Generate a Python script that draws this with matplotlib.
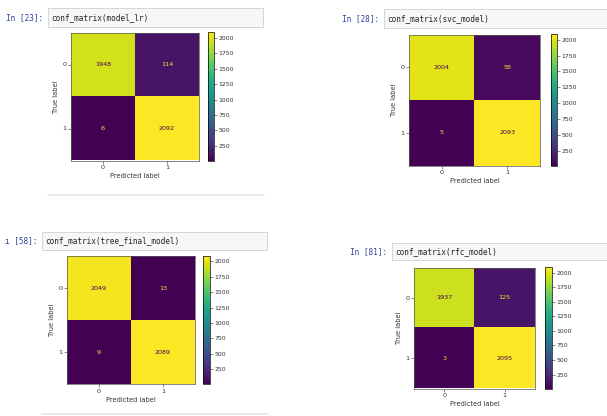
import numpy as np
import matplotlib
matplotlib.use("Agg")
import matplotlib.pyplot as plt
from matplotlib.patches import Rectangle

# confusion matrices
cm_lr = [[1948, 114], [6, 2092]]
cm_svc = [[2004, 58], [5, 2093]]
cm_tree = [[2049, 13], [9, 2089]]
cm_rfc = [[1937, 125], [3, 2095]]

prompts = ["In [23]:", "In [28]:", "\u0131 [58]:", "In [81]:"]
codes = ["conf_matrix(model_lr)", "conf_matrix(svc_model)",
         "conf_matrix(tree_final_model)", "conf_matrix(rfc_model)"]
class_labels = ["0", "1"]
cbar_ticks = [250, 500, 750, 1000, 1250, 1500, 1750, 2000]

W, H = 607, 416
fig = plt.figure(figsize=(W / 100, H / 100), dpi=100)


def px_axes(x0, y0, x1, y1):
    # pixel box (top-left origin) -> figure axes
    return fig.add_axes([x0 / W, 1 - y1 / H, (x1 - x0) / W, (y1 - y0) / H])


# overlay axis for the notebook decorations
bg = fig.add_axes([0, 0, 1, 1])
bg.set_xlim(0, W)
bg.set_ylim(H, 0)
bg.axis("off")


def code_cell(x0, y0, x1, y1, prompt, code):
    bg.add_patch(Rectangle((x0, y0), x1 - x0, y1 - y0, facecolor="#f7f7f7",
                           edgecolor="#cfcfcf", lw=0.6))
    bg.text(x0 - 5, (y0 + y1) / 2, prompt, ha="right", va="center",
            color="#303F9F", family="DejaVu Sans Mono", fontsize=5.6)
    bg.text(x0 + 3, (y0 + y1) / 2, code, ha="left", va="center",
            color="#222222", family="DejaVu Sans Mono", fontsize=5.6)


def conf_plot(cm, box, cbox):
    cm = np.array(cm)
    ax = px_axes(*box)
    im = ax.imshow(cm, cmap="viridis", interpolation="nearest")
    cmap = plt.get_cmap("viridis")
    thresh = (cm.max() + cm.min()) / 2
    for i in range(2):
        for j in range(2):
            col = cmap(0.0) if cm[i, j] > thresh else cmap(1.0)
            ax.text(j, i, str(cm[i, j]), ha="center", va="center",
                    color=col, fontsize=4.6)
    ax.set_xticks([0, 1])
    ax.set_yticks([0, 1])
    ax.set_xticklabels(class_labels)
    ax.set_yticklabels(class_labels)
    ax.tick_params(labelsize=4.6, length=2, width=0.4, pad=1.5,
                   colors="#333333")
    ax.set_xlabel("Predicted label", fontsize=4.8, labelpad=2, color="#333333")
    ax.set_ylabel("True label", fontsize=4.8, labelpad=2, color="#333333")
    for s in ax.spines.values():
        s.set_linewidth(0.5)
        s.set_color("#555555")
    cax = px_axes(*cbox)
    cb = fig.colorbar(im, cax=cax, ticks=cbar_ticks)
    cb.ax.tick_params(labelsize=4.4, length=2, width=0.4, pad=1,
                      colors="#333333")
    cb.outline.set_linewidth(0.5)


code_cell(48, 8, 263, 27, prompts[0], codes[0])
conf_plot(cm_lr, (71, 32, 199, 161), (208, 32, 214, 161))
bg.plot([48, 264], [195, 195], color="#e6e6e6", lw=1.2)

code_cell(384, 9, 610, 28, prompts[1], codes[1])
conf_plot(cm_svc, (409, 34, 540, 166), (551, 34, 557, 166))

code_cell(42, 232, 267, 250, prompts[2], codes[2])
conf_plot(cm_tree, (67, 256, 195, 384), (203, 256, 210, 384))
bg.plot([42, 268], [414, 414], color="#e6e6e6", lw=1.2)

code_cell(392, 243, 610, 260, prompts[3], codes[3])
conf_plot(cm_rfc, (414, 267, 535, 389), (545, 267, 552, 389))

fig.savefig("out.png", dpi=100)
